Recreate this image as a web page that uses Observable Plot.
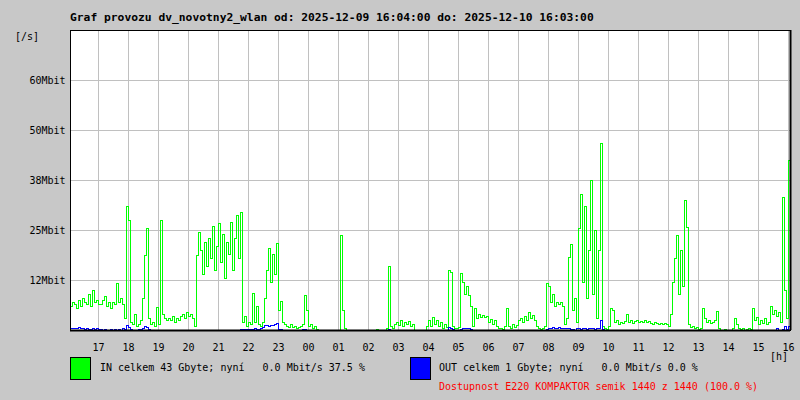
<!DOCTYPE html>
<html>
<head>
<meta charset="utf-8">
<script src="https://cdn.jsdelivr.net/npm/d3@7"></script>
<script src="https://cdn.jsdelivr.net/npm/@observablehq/plot@0.6"></script>
<style>
  html, body { margin: 0; padding: 0; background: #c8c8c8; }
  #wrap { position: relative; width: 800px; height: 400px; background: #c8c8c8; overflow: hidden;
          font-family: "DejaVu Sans Mono", "Liberation Mono", monospace; color: #000; }
  #wrap svg { position: absolute; left: 0; top: 0; }
  .t { position: absolute; white-space: pre; line-height: 1; }
  .box { position: absolute; width: 19px; height: 21px; border: 1px solid #000; }
</style>
</head>
<body>
<div id="wrap"></div>
<script>
// ---- data (Mbit/s, one sample every 4 minutes from 2025-12-09 16:04) ----
const title = "Graf provozu dv_novotny2_wlan od: 2025-12-09 16:04:00 do: 2025-12-10 16:03:00";
const yUnit = "[/s]";
const xUnit = "[h]";
const hourLabels = ["17","18","19","20","21","22","23","00","01","02","03","04","05","06","07","08","09","10","11","12","13","14","15","16"];
const yTickValues = [12.5, 25, 37.5, 50, 62.5];
const yTickLabels = ["12Mbit","25Mbit","38Mbit","50Mbit","60Mbit"];
const legendIn = "IN celkem 43 Gbyte; nyní   0.0 Mbit/s 37.5 %";
const legendOut = "OUT celkem 1 Gbyte; nyní   0.0 Mbit/s 0.0 %";
const availability = "Dostupnost E220 KOMPAKTOR semik 1440 z 1440 (100.0 %)";

const inMbit = [
  6, 7, 6.5, 5.5, 7.5, 6, 8, 7, 6.5, 9, 6, 10, 7, 7.5, 6.5,
  6.5, 7.5, 8.5, 6, 7, 5.5, 7, 6.5, 11.8, 7, 8, 6.5, 3, 31, 27.5,
  2, 1.5, 4, 1, 1.5, 2.5, 8, 18.7, 25.5, 3, 1.5, 2, 1, 5.8, 1.5,
  27.5, 4, 3, 2.5, 3, 2.5, 3.5, 2, 3, 2.5, 3.5, 4, 3, 4.5, 3.5,
  4, 3, 1, 18.7, 24.6, 20, 14, 22, 16, 23, 18, 26, 15, 21, 26.7,
  17, 24, 13, 22, 19, 27, 15, 23, 28.7, 18, 29.5, 2, 3.5, 1, 2,
  1.5, 9.2, 2, 6, 1.5, 1, 2, 8, 15, 20.5, 12, 19, 14, 21.7, 5,
  7.2, 2, 1.5, 1, 0.8, 1.5, 0.8, 1, 0.5, 0.8, 1, 1.5, 8.75, 5, 1,
  1.5, 0.5, 1, 0.3, 0, 0, 0, 0, 0, 0, 0, 0, 0, 0, 0,
  23.75, 5, 0.5, 0, 0, 0, 0, 0, 0, 0, 0, 0, 0, 0, 0,
  0, 0, 0, 0.3, 0, 0, 0, 0, 0.5, 16, 1, 0.5, 1.5, 2, 1.2,
  2.5, 1, 2, 1.5, 2.2, 1, 1.5, 0, 0, 0, 0, 0, 0, 1, 2.5,
  1, 3.3, 1.5, 2.5, 1, 2, 0.5, 1.5, 0.8, 15, 14.5, 1, 0.5, 0.5, 0.8,
  14.3, 12, 9, 11, 8.75, 6, 1, 5.5, 3, 4, 3.3, 3.8, 3.2, 3.5, 2,
  2.8, 1.5, 2.5, 1, 0.5, 0.5, 0.3, 1, 5.4, 1, 0.5, 1.5, 0.8, 1.2, 2.5,
  3, 2, 3.5, 2.5, 4.6, 3, 3.8, 2.5, 1, 0.5, 0.3, 0.5, 1, 11.7, 11,
  7, 9, 6, 7, 6.5, 7, 6, 1.5, 3, 18.3, 21.4, 5, 8, 2, 25.5,
  34, 12, 31, 8, 20, 37.5, 9, 25, 3, 20, 46.7, 1, 0.5, 0.3, 1,
  5.5, 5, 2, 2.5, 1.5, 2, 1.8, 2.2, 4, 2, 2.5, 1.8, 2.2, 2.5, 2,
  2.3, 2, 2.5, 2, 2.2, 1.8, 1.5, 2, 1.8, 1.6, 1.8, 1.5, 1.7, 1.5, 1,
  4, 12, 18, 23.75, 9, 20, 11, 32.5, 25.8, 1.5, 0.8, 1, 0.5, 0.8, 0.3,
  0.5, 5.5, 3, 2, 2.5, 1.8, 2, 2.5, 4.7, 0.5, 0, 0, 0.3, 0, 0,
  0, 0.5, 3, 1.5, 0.5, 0.3, 0.5, 0, 0.3, 0.5, 0.3, 5.5, 2.5, 3.3, 1.5,
  2.5, 1.8, 3, 1.5, 2, 6, 4, 5, 3.5, 4.5, 2, 33.2, 10, 3, 42.5
];

const outMbit = [
  0.5, 0.6, 0.4, 0.5, 0.7, 0.5, 0.4, 0.3, 0.5, 0.3, 0.2, 0.4, 0.3, 0.5, 0.2,
  0.2, 0.1, 0.2, 0.1, 0.1, 0.2, 0.1, 0.3, 0.1, 0.2, 0.1, 0.5, 0.3, 1.2, 0.8,
  0.2, 0.1, 0, 0, 0.2, 0.3, 0.6, 1, 0.8, 0.2, 0, 0.1, 0, 0, 0,
  0, 0, 0, 0, 0, 0, 0, 0, 0, 0, 0, 0, 0, 0, 0,
  0, 0, 0, 0, 0, 0, 0, 0, 0, 0, 0, 0, 0, 0, 0,
  0, 0, 0, 0, 0, 0, 0, 0, 0, 0, 0.3, 0.2, 0.3, 0.2, 0.3,
  0.3, 0.2, 0.4, 0.2, 0.3, 0.5, 0.8, 1.2, 1.2, 1.1, 1.3, 1.2, 1.4, 1.8, 0.3,
  0.2, 0, 0, 0, 0, 0, 0, 0, 0, 0, 0, 0.3, 0.3, 0, 0,
  0, 0, 0, 0, 0, 0, 0, 0, 0, 0, 0, 0, 0, 0, 0,
  0, 0, 0, 0, 0, 0, 0, 0, 0, 0, 0, 0, 0, 0, 0,
  0, 0, 0, 0, 0, 0, 0, 0, 0, 0.2, 0, 0, 0, 0, 0,
  0, 0, 0, 0, 0, 0, 0, 0, 0, 0, 0, 0, 0, 0, 0,
  0, 0, 0, 0, 0, 0, 0, 0, 0, 0.8, 0.5, 0.2, 0, 0, 0,
  0.3, 0.6, 0.4, 0.6, 0.5, 0.3, 0, 0, 0, 0, 0, 0, 0, 0, 0,
  0, 0, 0, 0, 0, 0, 0, 0, 0, 0, 0, 0, 0, 0, 0,
  0, 0, 0, 0, 0, 0, 0, 0, 0, 0, 0, 0, 0, 0.3, 0.6,
  0.6, 0.7, 0.6, 0.6, 0.7, 0.6, 0.6, 0.5, 0.6, 0.6, 0.3, 0.2, 0, 0.4, 0.4,
  0.3, 0.4, 0.5, 0.3, 0.4, 0.5, 0.4, 0.3, 0.5, 0.4, 2.5, 0.2, 0, 0, 0,
  0, 0, 0, 0, 0, 0, 0, 0, 0, 0, 0, 0, 0, 0, 0,
  0, 0, 0, 0, 0, 0, 0, 0, 0, 0, 0, 0, 0, 0, 0,
  0, 0, 0, 0, 0, 0, 0, 0, 0, 0, 0, 0, 0, 0, 0,
  0, 0, 0, 0, 0, 0, 0, 0, 0, 0, 0, 0, 0, 0, 0,
  0, 0, 0, 0, 0, 0, 0, 0, 0, 0, 0, 0, 0, 0, 0,
  0, 0, 0, 0, 0, 0, 0, 0, 0.5, 0, 0, 0.3, 1, 0.3, 1
];

// ---- build table ----
const start = new Date(2025, 11, 9, 16, 4);
const end = new Date(2025, 11, 10, 16, 4);
const stepMs = 4 * 60000;
function series(values) {
  const rows = values.map((v, i) => ({t: new Date(+start + i * stepMs), v}));
  rows.push({t: end, v: values[values.length - 1]});
  return rows;
}
const inRows = series(inMbit);
const outRows = series(outMbit);
const hourTicks = d3.timeHour.range(new Date(2025, 11, 9, 17), new Date(2025, 11, 10, 16, 1));

const chart = Plot.plot({
  width: 800,
  height: 400,
  marginLeft: 70,
  marginRight: 10,
  marginTop: 30,
  marginBottom: 70,
  style: {background: "#c8c8c8", fontFamily: "'DejaVu Sans Mono', monospace", fontSize: "10px", color: "#000"},
  x: {type: "time", domain: [start, end], ticks: hourTicks, tickFormat: (d, i) => hourLabels[i], tickSize: 0, tickPadding: 13, label: null},
  y: {domain: [0, 75], ticks: yTickValues, tickFormat: (d, i) => yTickLabels[i], tickSize: 0, tickPadding: 5, label: null},
  marks: [
    Plot.frame({fill: "white", stroke: null}),
    Plot.gridX(hourTicks, {stroke: "#c0c0c0", strokeOpacity: 1}),
    Plot.gridY(yTickValues, {stroke: "#c0c0c0", strokeOpacity: 1}),
    Plot.line(inRows, {x: "t", y: "v", stroke: "#00ff00", strokeWidth: 1, curve: "step-after", shapeRendering: "crispEdges"}),
    Plot.line(outRows, {x: "t", y: "v", stroke: "#0000ff", strokeWidth: 1, curve: "step-after", shapeRendering: "crispEdges"}),
    Plot.frame({stroke: "#000", strokeWidth: 1, shapeRendering: "crispEdges"}),
    Plot.ruleY([0], {stroke: "#000", strokeWidth: 2}),
    Plot.ruleX([end], {stroke: "#000", strokeWidth: 2}),
    Plot.axisX({ticks: hourTicks, tickFormat: (d, i) => hourLabels[i], tickSize: 0, tickPadding: 13, label: null}),
    Plot.axisY({ticks: yTickValues, tickFormat: (d, i) => yTickLabels[i], tickSize: 0, tickPadding: 5, label: null})
  ]
});

const wrap = document.getElementById("wrap");
wrap.appendChild(chart);

function text(str, left, top, size, extra) {
  const d = document.createElement("div");
  d.className = "t";
  d.textContent = str;
  d.style.left = left + "px";
  d.style.top = top + "px";
  d.style.fontSize = size + "px";
  if (extra) Object.assign(d.style, extra);
  wrap.appendChild(d);
}
function box(color, left, top) {
  const b = document.createElement("div");
  b.className = "box";
  b.style.left = left + "px";
  b.style.top = top + "px";
  b.style.background = color;
  wrap.appendChild(b);
}
text(title, 70, 12, 11.3, {fontWeight: "bold"});
text(yUnit, 15, 32, 10);
text(xUnit, 770, 352, 10);
box("#00ff00", 70, 357);
text(legendIn, 100, 363, 10);
box("#0000ff", 410, 357);
text(legendOut, 439, 363, 10);
text(availability, 439, 382, 10, {color: "#ff0000"});
</script>
</body>
</html>
